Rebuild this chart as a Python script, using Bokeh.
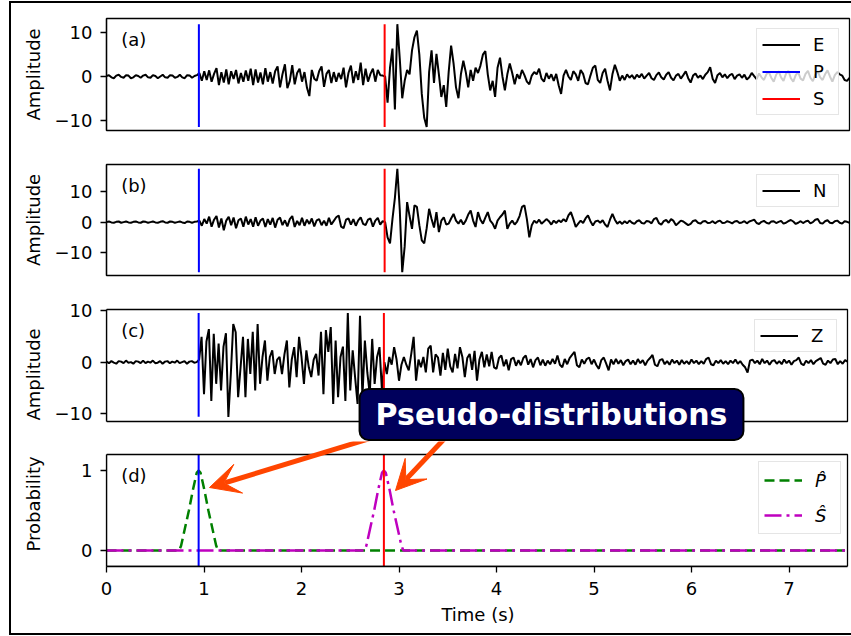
import numpy as np
from bokeh.plotting import figure
from bokeh.layouts import column
from bokeh.models import Range1d, FixedTicker, Label, Arrow, VeeHead
from bokeh.embed import file_html
from bokeh.resources import INLINE

# ---------------- data ----------------
DT = 0.025

east = [0.1, 0.3, -0.2, -0.4, 0.2, 0.4, -0.1, -0.3, 0.3, 0.2, -0.4, -0.2, 0.3, 0.1, -0.3, 0.2, 0.4, -0.2, -0.3, 0.3,
        0.1, -0.4, 0.0, 0.4, -0.2, -0.3, 0.3, 0.2, -0.3, -0.1, 0.4, -0.2, -0.4, 0.3, 0.2, -0.3, 0.1, 0.3,
        0.8, -1.0, 1.2, -0.8, 1.4, -1.2, 0.6, 1.9, -2.0, 1.0,
        -1.4, 1.6, -1.8, 1.2, -0.6, 1.5, -1.6, 0.8, -1.2, 1.4,
        -1.0, 1.8, -2.0, 1.6, -1.4, 0.9, -1.8, 1.9, -1.2, 1.0,
        -1.6, 1.2, 2.3, -2.5, 0.5, 2.8, -2.7, -1.0, 2.6, -1.8,
        0.8, 1.8, -1.2, 1.0, -2.5, -4.5, 1.5, -0.5, -1.0, 1.2,
        2.3, -2.4, 0.6, 1.5, -1.5, 1.0, -1.2, 0.8, -0.6, 2.0,
        -2.5, 0.8, 2.5, -1.5, 1.2, -0.8, 3.2, -2.0, 1.8, -1.2,
        0.6, 1.8, -1.2, 1.5, 0.3, 0.2,
        0.0, -6.0, 2.0, 6.4, -7.6, 12.0, 4.0, -5.0, -1.0, 1.5,
        0.5, 6.0, 9.0, 10.5, 5.0, -4.0, -9.5, -11.6, 1.0, 6.0,
        -1.5, 5.2, 0.5, -4.7, -2.0, -7.0, 1.0, 7.1, 3.0, -2.5,
        -5.0, 0.5, 3.6, 1.0, -2.5, 1.5, -1.0, 2.0, 0.8, 2.5,
        5.0, 5.8, 0.5, -3.2, -1.0, -4.7, 2.0, 4.3, 0.0, -3.2,
        0.5, 3.0, 0.8, -1.8, 0.5, -0.5, 1.5, 0.3, -1.2, -1.8,
        0.2, 1.0, 0.5, 1.8, -0.5, -1.2, 0.8, -0.5, 0.5, -1.0,
        0.6, -2.0, -4.0, 0.2, 1.5, 0.0, -0.8, 1.2, 0.5, -1.0,
        1.5, 0.6, -1.5, -1.8, 0.2, 2.0, 2.5, -0.8, -1.5, 0.8,
        1.8, -1.0, -3.2, 0.5, 2.7, 1.0, -1.0, 0.2, -0.8,
        0.5, -0.3, 0.3, -0.6, 0.4, -0.2, 0.6, -0.5, 0.2, 0.8,
        -0.4, -0.8, 0.3, 0.9, -0.2, -0.7, 0.4, 1.0, -0.3, -0.9,
        0.2, 0.6, -0.5, 0.3, 1.2, -0.4, -1.4, 0.2, 0.7, -0.3,
        0.2, -0.6, 0.4, 1.0, 2.1, -0.5, -1.5, 0.3, 0.8, -0.2,
        0.5, -0.4, 0.3, 0.6, -0.6, 0.2, 0.5, -0.3, 0.4, -0.7,
        -0.2, 0.8, 0.1, -0.6, 0.7, -0.2, -0.8, 0.5, 1.0, -0.3,
        -1.2, 0.4, 1.2, -0.2, -1.0, 0.6, 1.3, -0.4, -1.2, 0.3,
        1.0, -0.5, -0.9, 0.6, 1.3, -0.3, -1.1, 0.4, 1.2, -0.2,
        -0.8, 0.5, 1.4, 0.0, -1.2, 0.3, 1.0, 0.5, 0.2, -0.8,
        -1.0, -0.3]

north = [0.0, 0.2, -0.1, -0.2, 0.1, 0.2, -0.2, 0.0, 0.2, -0.1, -0.2, 0.1, 0.2, -0.1, -0.2, 0.2, 0.1, -0.2, 0.0, 0.2,
         -0.1, -0.2, 0.1, 0.3, -0.1, -0.2, 0.2, 0.1, -0.2, 0.0, 0.2, -0.1, -0.3, 0.2, 0.1, -0.2, 0.1, 0.2,
         0.5, -1.2, 1.0, -0.5, 1.8, -1.5, 0.8, 2.0, -1.8, 1.2,
         -2.7, 0.5, 1.8, -1.0, 1.5, -2.0, 0.6, 1.2, -1.5, 1.8,
         -0.8, 1.0, -1.5, 1.6, -1.2, 0.5, 1.2, -1.6, 1.0, -0.8,
         1.4, -1.8, 0.8, 1.5, -1.0, 0.6, -1.4, 1.0, 2.0, -1.6,
         0.4, -1.0, 1.4, -1.2, 0.8, -0.6, 1.2, -1.4, 0.6, 1.0,
         -1.0, 0.5, -1.2, 1.4, -0.8, 0.4, 1.6, 2.2, -1.5, -2.0,
         0.8, 1.2, -0.8, 1.0, -1.2, 0.6, 1.6, -0.6, -1.0, 0.8,
         1.2, -1.5, 0.5, 1.4, -0.8, 0.3,
         0.0, -5.0, -7.0, 1.0, 8.0, 17.6, 4.0, -16.5, -8.0, 6.6,
         2.0, -2.2, 5.5, 5.0, -1.0, -6.0, -7.0, -2.0, 4.4, 1.0,
         -1.8, 3.3, -3.3, 0.5, 1.6, -0.8, -0.5, 1.2, 2.7, 0.5,
         -0.5, 0.8, -0.8, 0.5, 2.5, 3.8, 0.5, -1.6, 3.3, 0.8,
         -0.5, 1.5, 3.3, 0.5, -0.5, -2.2, 0.5, 1.6, 2.5, 3.8,
         -2.2, -0.5, 0.5, -0.8, 0.2, 2.0, 5.0, 5.5, 1.0, -5.0,
         -1.0, 0.5, -0.3, 0.8, -0.5, 0.2, 1.0, 0.3, -0.8, 0.5,
         -0.3, 0.6, 0.0, 1.0, 0.2, 2.2, 3.3, 1.0, -1.6, -0.5,
         0.5, -0.3, 1.2, 2.2, 0.3, -1.1, 0.2, 0.5, -0.2, 0.6,
         -0.8, -1.6, 0.8, 2.7, 0.8, -0.5, 0.2, -0.6, 0.3,
         -0.4, 0.5, -0.2, -0.6, 0.3, 0.6, -0.3, -0.5, 0.4, 0.2,
         -0.4, 1.0, 1.4, -0.3, -0.8, 0.3, 0.7, -0.2, 1.0, 0.4,
         -1.0, -0.3, 0.5, 0.2, -0.4, -1.0, -0.6, 0.4, 0.6, -0.2,
         -0.5, 0.2, 0.4, -0.3, -0.2, 0.3, -0.4, 0.2, 0.5, -0.3,
         -0.2, 0.3, 0.0, -0.4, 0.2, 0.4, -0.3, -0.1, 0.3, -0.4,
         0.2, 0.5, 0.8, -0.3, -0.6, 0.1, 0.4, -0.2, -0.5, 0.2,
         0.3, -0.3, 0.1, 0.4, -0.5, -0.2, 0.3, 0.7, 0.2, -0.6,
         -0.2, 0.3, -0.3, 0.2, 0.5, -0.4, 0.0, 0.8, 1.0, -0.3,
         -0.5, 0.3, 0.6, -0.2, -0.4, 0.3, 0.5, -0.2, -0.5, 0.3,
         0.1, -0.2]

vert = [0.1, -0.2, 0.2, -0.1, -0.3, 0.2, 0.1, -0.2, 0.3, -0.1, 0.0, -0.3, 0.2, 0.1, -0.2, 0.3, -0.2, 0.1, -0.1, 0.3,
        -0.2, -0.1, 0.2, -0.3, 0.1, 0.2, -0.2, 0.1, -0.1, 0.3, -0.2, 0.0, 0.2, -0.3, 0.1, 0.2, -0.1, 0.0,
        0.5, 4.9, -6.2, 4.0, 6.4, -7.5, 5.5, -4.2, 3.6, -5.5,
        3.0, 5.6, -10.6, -2.3, 7.4, 5.8, -6.8, -1.0, 4.9, -6.8,
        4.5, -2.3, 5.9, -5.5, 7.4, -4.2, 1.0, 4.2, -3.6, 1.0,
        2.3, -2.3, 0.5, 1.0, -2.3, 1.5, 4.2, -4.9, 0.5, 2.9,
        -2.9, 4.9, 1.0, -4.2, 2.3, -1.0, -2.9, 0.5, 1.6, -2.6,
        5.9, -6.2, 6.2, 2.0, 6.8, -8.1, 4.2, -6.8, 1.0, 3.0,
        -7.5, 9.5, -5.5, 2.3, -3.0, -8.1, 9.0, -6.8, 4.2, -2.0,
        -6.2, 4.5, -4.2, 1.0, 2.9, -5.5, 0.0, -2.3, 1.0, -0.5,
        2.9, 0.5, -3.6, -0.5, 1.0, -0.5, -1.6, 1.5, 4.9, -3.6,
        0.5, -1.0, 1.0,
        -2.0, 2.6, 3.2, -2.0, 1.5, 0.9, -2.6, 1.8, -1.5, 2.6,
        -0.8, -2.0, 1.6, -1.2, 2.9, 1.0, -2.9, 0.8, 1.6, -1.5,
        2.2, -3.6, 0.5, 2.0, -1.0, 1.5, -0.8, 2.0, -1.0, -1.3,
        0.8, 1.3, -0.8, 0.5, -1.6, 0.6, 0.9, -0.7, 0.4, -0.6,
        0.8, 1.3, -0.5, 0.6, -1.0, 0.4, 0.9, -0.6, 0.5, -0.7,
        0.3, -0.4, 0.6, -0.3, 1.3, -0.5, -1.0, 0.6, -0.4, 0.8,
        1.4, 2.0, -0.6, -1.0, 0.5, -0.3, 0.6, 0.9, -0.4, 0.5,
        -0.6, -1.3, 0.4, 0.9, -0.3, -1.6, 0.5,
        -0.4, 0.6, -0.3, 0.4, -0.6, 0.2, 0.5, -0.4, 0.3, -0.5,
        0.6, -0.2, 0.4, -0.6, 0.3, 0.8, 1.4, -0.5, -0.8, 0.4,
        0.6, -0.4, 0.2, -0.5, 0.5, -0.2, 0.3, -0.5, 0.4, -0.3,
        0.2, -0.4, 0.5, -0.2, 0.3, -0.4, 0.2, -0.3, 0.6, 0.9,
        -0.4, -0.6, 0.3, -0.2, 0.4, -0.3, 0.2, -0.4, 0.3, -0.2,
        0.5, -0.3, 0.2, -0.5, -1.0, -2.0, 0.3, 0.5, -0.2, 0.3,
        -0.4, 0.6, -0.2, 0.3, -0.5, 0.2, 0.4, -0.3, 0.2, -0.4,
        0.5, -0.2, 0.3, -0.5, 0.2, 0.4, 0.9, -0.3, -0.6, 0.3,
        -0.2, 0.4, -0.4, 0.2, 0.5, 0.8, -0.3, -0.5, 0.3, -0.2,
        0.5, 0.6, -0.4, 0.2, -0.3, 0.4, 0.1]

p_hat_time = [0.0, 0.745, 0.765, 0.805, 0.845, 0.885, 0.925, 0.945, 0.965, 1.005, 1.045, 1.085, 1.125, 1.145, 7.6]
p_hat_prob = [0.0, 0.0, 0.06, 0.28, 0.5, 0.75, 0.97, 1.0, 0.97, 0.75, 0.5, 0.28, 0.06, 0.0, 0.0]
s_hat_time = [0.0, 2.645, 2.665, 2.705, 2.745, 2.785, 2.825, 2.845, 2.865, 2.905, 2.945, 2.985, 3.025, 3.045, 7.6]
s_hat_prob = [0.0, 0.0, 0.06, 0.28, 0.5, 0.75, 0.97, 1.0, 0.97, 0.75, 0.5, 0.28, 0.06, 0.0, 0.0]

P_PICK = 0.945
S_PICK = 2.845

x_ticks = [0, 1, 2, 3, 4, 5, 6, 7]
amp_ticks = [-10, 0, 10]
prob_ticks = [0, 1]
panel_letters = ["(a)", "(b)", "(c)", "(d)"]
component_names = ["E", "N", "Z"]

# ---------------- styling / layout ----------------
FONT = "DejaVu Sans"
FS = "18px"
X_RANGE = (0, 7.6)
Y_LIMS = [(-12.4, 13.3), (-17.6, 19.0), (-11.5, 10.2), (-0.2, 1.2)]
PANEL_H = [112, 111, 112, 112]        # visible panel heights (px)
HEIGHTS = [144, 145, 149, 192]        # canvas heights (px)
# extra frame pixels (above, below) beyond the visible panel box, so that
# the callout and arrows can cross the gap between panels (c) and (d)
EXT = [(0, 0), (0, 0), (2, 20), (13, 0)]
TOPS = [15, 17, 15, 0]
BOTTOMS = [17, 17, 0, 67]
X_SCALE = 743.0 / (X_RANGE[1] - X_RANGE[0])

xr_shared = Range1d(*X_RANGE)
xr_ext = Range1d(X_RANGE[0], X_RANGE[1] + 2.0 / X_SCALE)


def make_fig(i, xaxis=False):
    lo, hi = Y_LIMS[i]
    sc = PANEL_H[i] / (hi - lo)
    up, down = EXT[i]
    extended = (up, down) != (0, 0)
    yr = Range1d(lo - down / sc, hi + up / sc)
    p = figure(width=840, height=HEIGHTS[i], x_range=xr_ext if extended else xr_shared, y_range=yr,
               min_border_left=95, min_border_right=0 if extended else 2,
               min_border_top=TOPS[i], min_border_bottom=BOTTOMS[i],
               toolbar_location=None, output_backend="svg", title=None, tools="",
               x_axis_location="below" if xaxis else None)
    p.grid.visible = False
    p.background_fill_color = "white"
    p.border_fill_color = "white"
    if extended:
        p.outline_line_color = None
    else:
        p.outline_line_color = "black"
        p.outline_line_width = 1.3
        p.outline_line_alpha = 1.0
    for ax in p.axis:
        ax.axis_line_color = "black"
        ax.axis_line_width = 1.3
        ax.major_tick_line_color = "black"
        ax.major_tick_line_width = 1.3
        ax.major_tick_out = 6
        ax.major_tick_in = 0
        ax.minor_tick_out = 0
        ax.minor_tick_in = 0
        ax.major_label_text_font = FONT
        ax.major_label_text_font_size = FS
        ax.major_label_text_color = "black"
        ax.axis_label_text_font = FONT
        ax.axis_label_text_font_size = FS
        ax.axis_label_text_font_style = "normal"
        ax.axis_label_text_color = "black"
    p.yaxis.bounds = (lo, hi)
    if xaxis:
        p.xaxis.bounds = X_RANGE
    p.add_layout(Label(x=0.15, y=hi - (hi - lo) * 21.0 / PANEL_H[i], text=panel_letters[i],
                       text_font=FONT, text_font_size=FS, text_color="black",
                       text_align="left", text_baseline="middle"))
    return p, extended


def panel_box(p, i):
    lo, hi = Y_LIMS[i]
    p.quad(left=[X_RANGE[0]], right=[X_RANGE[1]], bottom=[lo], top=[hi],
           fill_color=None, line_color="black", line_width=1.3)


def style_legend(p, gh, sp, margin=10):
    lg = p.legend[0]
    lg.location = "top_right"
    lg.margin = margin
    lg.padding = 5
    lg.spacing = sp
    lg.glyph_width = 38
    lg.glyph_height = gh
    lg.label_height = gh
    lg.label_standoff = 13
    lg.label_text_font = FONT
    lg.label_text_font_size = FS
    lg.label_text_color = "black"
    lg.border_line_color = "#cccccc"
    lg.border_line_width = 1.2
    lg.background_fill_color = "white"
    lg.background_fill_alpha = 0.8


traces = [east, north, vert]
figs = []
for i, tr in enumerate(traces):
    p, extended = make_fig(i)
    t = np.arange(len(tr)) * DT
    p.line(t, tr, line_color="black", line_width=2, legend_label=component_names[i])
    lo, hi = float(np.min(tr)), float(np.max(tr))
    if i == 0:
        p.segment(x0=[P_PICK], y0=[lo], x1=[P_PICK], y1=[hi], line_color="#0000ff", line_width=2, legend_label="P")
        p.segment(x0=[S_PICK], y0=[lo], x1=[S_PICK], y1=[hi], line_color="#ff0000", line_width=2, legend_label="S")
    else:
        p.segment(x0=[P_PICK], y0=[lo], x1=[P_PICK], y1=[hi], line_color="#0000ff", line_width=2)
        p.segment(x0=[S_PICK], y0=[lo], x1=[S_PICK], y1=[hi], line_color="#ff0000", line_width=2)
    if extended:
        panel_box(p, i)
    p.yaxis.ticker = FixedTicker(ticks=amp_ticks)
    p.yaxis.major_label_overrides = {-10: "\u221210"}
    p.yaxis.axis_label = "Amplitude"
    p.yaxis.major_label_standoff = 8
    p.yaxis.axis_label_standoff = 8
    style_legend(p, 21, 6, margin=12 if extended else 10)
    figs.append(p)

# probability panel
pd_, _ = make_fig(3, xaxis=True)
pd_.line(p_hat_time, p_hat_prob, line_color="#008000", line_width=2.5, line_dash="10 5",
         legend_label="P\u0302")
pd_.line(s_hat_time, s_hat_prob, line_color="#bf00bf", line_width=2.5, line_dash="17 5 3 5",
         legend_label="\u015c")
d_lo, d_hi = Y_LIMS[3]
pd_.segment(x0=[P_PICK], y0=[d_lo], x1=[P_PICK], y1=[d_hi], line_color="#0000ff", line_width=2)
pd_.segment(x0=[S_PICK], y0=[d_lo], x1=[S_PICK], y1=[d_hi], line_color="#ff0000", line_width=2)
panel_box(pd_, 3)
pd_.yaxis.ticker = FixedTicker(ticks=prob_ticks)
pd_.yaxis.axis_label = "Probability"
pd_.yaxis.major_label_standoff = 8
pd_.yaxis.axis_label_standoff = 34
pd_.xaxis.ticker = FixedTicker(ticks=x_ticks)
pd_.xaxis.axis_label = "Time (s)"
pd_.xaxis.major_label_standoff = 9
pd_.xaxis.axis_label_standoff = 6
style_legend(pd_, 26, 9)
pd_.legend[0].location = (652, 32)
pd_.legend[0].label_text_font_style = "italic"

# callout box in panel (c) (screen units, measured from the frame's bottom-left)
pc = figs[2]
box_kw = dict(x=445, x_units="screen", y_units="screen",
              text="Pseudo-distributions", text_align="center",
              text_baseline="middle", text_font=FONT, text_font_size="30px",
              text_font_style="bold", border_radius=9,
              padding=dict(left=16, right=16, top=8, bottom=8))
shadow_kw = dict(text_alpha=0.0, background_fill_color="#333333", background_fill_alpha=0.55,
                 x_offset=5, y_offset=-5)
pc.add_layout(Label(y=27, **shadow_kw, **box_kw))
pc.add_layout(Label(y=27, text_color="white", background_fill_color="#00005c",
                    border_line_color="black", border_line_width=2, **box_kw))

# arrows in panel (d), emerging from beneath the callout
ORANGE = "#ff4500"
pd_.add_layout(Arrow(end=VeeHead(size=30, fill_color=ORANGE, line_color=ORANGE),
                     start_units="screen", end_units="screen",
                     x_start=270, y_start=130, x_end=103, y_end=79,
                     line_color=ORANGE, line_width=5))
pd_.add_layout(Arrow(end=VeeHead(size=30, fill_color=ORANGE, line_color=ORANGE),
                     start_units="screen", end_units="screen",
                     x_start=340, y_start=130, x_end=289, y_end=76,
                     line_color=ORANGE, line_width=5))
# lower sliver of the callout's shadow, continued into panel (d)
pd_.add_layout(Label(y=152, **shadow_kw, **box_kw))
figs.append(pd_)

layout = column(*figs, margin=(1, 0, 0, 9),
                styles={"border-top": "2px solid black", "border-left": "2px solid black",
                        "border-bottom": "2px solid black"})

open("out.html", "w").write(file_html(layout, INLINE))
